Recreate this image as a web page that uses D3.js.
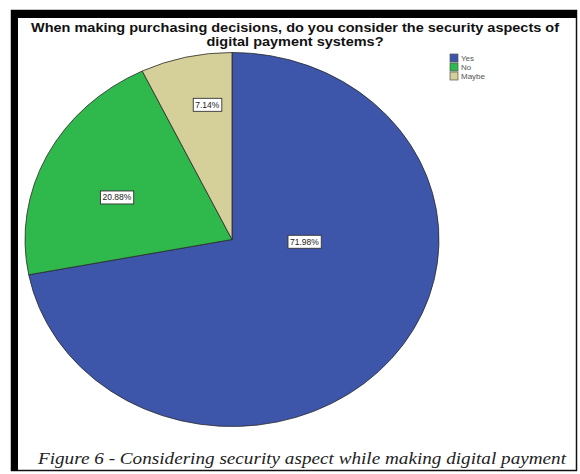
<!DOCTYPE html>
<html><head><meta charset="utf-8">
<script src="https://cdn.jsdelivr.net/npm/d3@7"></script>
<style>body{margin:0;background:#fff}svg{display:block}</style>
</head><body>
<svg id="c" width="580" height="474"></svg>
<script>
const categories = ["Yes", "No", "Maybe"];
const values = [71.98, 20.88, 7.14];
const valueLabels = ["71.98%", "20.88%", "7.14%"];
const colors = ["#3d56a9", "#2fb84b", "#d5cf99"];
const titleLines = ["When making purchasing decisions, do you consider the security aspects of", "digital payment systems?"];
const titleWidths = [528, 177];
const caption = "Figure 6 - Considering security aspect while making digital payment";
// label placement: [angle in degrees, fraction of radius]
const labelPlace = [[92, 0.35], [292, 0.6], [350.6, 0.73]];

const svg = d3.select("#c");
// frame
svg.append("rect").attr("x", 11.5).attr("y", 10.5).attr("width", 565).attr("height", 460)
  .attr("fill", "#fff").attr("stroke", "#111").attr("stroke-width", 1.5);
svg.append("rect").attr("x", 11).attr("y", 10).attr("width", 566).attr("height", 8).attr("fill", "#000");
svg.append("rect").attr("x", 11).attr("y", 10).attr("width", 7).attr("height", 461).attr("fill", "#000");

// title
svg.append("g").selectAll("text").data(titleLines).join("text")
  .attr("x", (d, i) => 295 - titleWidths[i] / 2).attr("y", (d, i) => 32 + i * 13.5)
  .attr("font-family", "Liberation Sans, Arial, sans-serif")
  .attr("font-weight", "bold").attr("font-size", 13).attr("fill", "#111")
  .attr("textLength", (d, i) => titleWidths[i]).attr("lengthAdjust", "spacingAndGlyphs")
  .text(d => d);

// pie (elliptical)
const cx = 232, cy = 239.5, ry = 187, rx = 207;
const pie = d3.pie().sort(null).value(d => d);
const arcs = pie(values);
const arc = d3.arc().innerRadius(0).outerRadius(ry);
const g = svg.append("g").attr("transform", `translate(${cx},${cy}) scale(${rx / ry},1)`);
g.selectAll("path").data(arcs).join("path")
  .attr("d", arc).attr("fill", (d, i) => colors[i])
  .attr("stroke", "#2a2a2a").attr("stroke-width", 0.8)
  .attr("vector-effect", "non-scaling-stroke");

// value labels
const lab = svg.append("g");
arcs.forEach((a, i) => {
  const ang = labelPlace[i][0] * Math.PI / 180, f = labelPlace[i][1];
  const x = cx + Math.sin(ang) * rx * f, y = cy - Math.cos(ang) * ry * f;
  const t = lab.append("text").attr("x", x).attr("y", y + 3)
    .attr("text-anchor", "middle").attr("font-family", "Liberation Sans, Arial, sans-serif")
    .attr("font-size", 8.5).attr("fill", "#222").text(valueLabels[i]);
  const bb = t.node().getBBox();
  lab.insert("rect", "text").attr("x", bb.x - 2).attr("y", y - 6.5).attr("width", bb.width + 4).attr("height", 13)
    .attr("fill", "#fff").attr("stroke", "#333").attr("stroke-width", 0.9);
});

// legend
const leg = svg.append("g").attr("transform", "translate(450,54)");
const li = leg.selectAll("g").data(categories).join("g").attr("transform", (d, i) => `translate(0,${i * 9})`);
li.append("rect").attr("width", 8).attr("height", 8).attr("fill", (d, i) => colors[i])
  .attr("stroke", "#555").attr("stroke-width", 0.7);
li.append("text").attr("x", 11).attr("y", 7).attr("font-family", "Liberation Sans, Arial, sans-serif")
  .attr("font-size", 8).attr("fill", "#555").text(d => d);

// caption
svg.append("text").attr("x", 38).attr("y", 464)
  .attr("font-family", "Liberation Serif, Times New Roman, serif").attr("font-style", "italic")
  .attr("font-size", 17.5).attr("fill", "#222")
  .attr("textLength", 528).attr("lengthAdjust", "spacingAndGlyphs").text(caption);
</script>
</body></html>
